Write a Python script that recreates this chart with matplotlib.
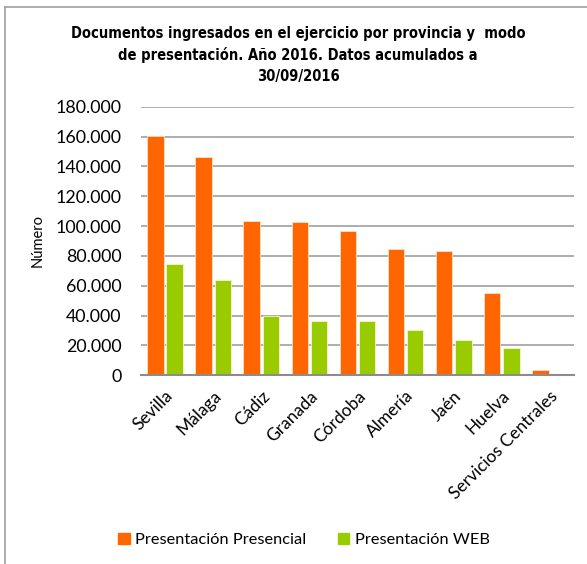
import matplotlib
matplotlib.use("Agg")
import matplotlib.pyplot as plt
from matplotlib.patches import Patch
from matplotlib.lines import Line2D
from matplotlib.ticker import FuncFormatter
import numpy as np

categories = ["Sevilla", "Málaga", "Cádiz", "Granada", "Córdoba", "Almería",
              "Jaén", "Huelva", "Servicios Centrales"]
presencial = [160300, 146000, 103200, 102700, 96500, 84600, 83300, 55100, 3600]
web = [74800, 64100, 39500, 36200, 36200, 30400, 23700, 18300, 600]
series_names = ["Presentación Presencial", "Presentación WEB"]
title = "Documentos ingresados en el ejercicio por provincia y  modo\nde presentación. Año 2016. Datos acumulados a\n30/09/2016"
ylabel = "Número"
yticks = list(range(0, 180001, 20000))

c_orange = "#FF6600"
c_green = "#99CC00"
font = ["Lato", "DejaVu Sans"]

fig = plt.figure(figsize=(5.87, 5.64), dpi=100)
ax = fig.add_axes([141/587, 1-375.3/564, (574-141)/587, (375.3-106.7)/564])

x = np.arange(len(categories))
w = 0.34
ax.bar(x - 0.2, presencial, width=w, color=c_orange, edgecolor="#FFE0CC", linewidth=0.6, zorder=3)
ax.bar(x + 0.2, web, width=w, color=c_green, edgecolor="#EEF7CC", linewidth=0.6, zorder=3)

ax.set_xlim(-0.5, len(categories) - 0.5)
ax.set_ylim(0, 180000)
ax.set_yticks(yticks)
ax.yaxis.set_major_formatter(FuncFormatter(lambda v, p: f"{int(v):,}".replace(",", ".")))
ax.grid(axis="y", color="#A0A0A0", linewidth=1.2, zorder=0)
for s in ["top", "right", "left"]:
    ax.spines[s].set_visible(False)
ax.spines["bottom"].set_color("#8C8C8C")
ax.spines["bottom"].set_linewidth(1.5)
ax.spines["bottom"].set_zorder(4)
ax.tick_params(axis="both", length=0)
ax.tick_params(axis="y", pad=14, labelsize=12.8)
ax.set_xticks(x)
ax.set_xticklabels(categories, rotation=45, ha="right", rotation_mode="anchor",
                   fontsize=12.5, family=font)
ax.tick_params(axis="x", pad=9)
for lab in ax.get_yticklabels():
    lab.set_family(font)

fig.text(38/587, 1-241/564, ylabel, rotation=90, ha="center", va="center",
         fontsize=10.5, family=font)
fig.text(298/587, 1-55/564, title, ha="center", va="center", fontsize=10.5,
         fontweight="bold", family="DejaVu Sans", fontstretch="condensed", linespacing=1.45)

handles = [Patch(color=c_orange), Patch(color=c_green)]
fig.legend(handles, series_names, loc="center", bbox_to_anchor=(304/587, 1-540/564),
           ncol=2, frameon=False, prop={"family": font, "size": 11.8},
           handlelength=0.7, handleheight=0.7, handletextpad=0.35, columnspacing=1.9)

# outer border lines (top and left)
fig.add_artist(Line2D([5/587, 1], [1-7/564, 1-7/564], color="#A0A0A0", linewidth=1.2,
                      transform=fig.transFigure))
fig.add_artist(Line2D([5/587, 5/587], [0, 1-7/564], color="#A0A0A0", linewidth=1.2,
                      transform=fig.transFigure))

fig.savefig("out.png", dpi=100)
